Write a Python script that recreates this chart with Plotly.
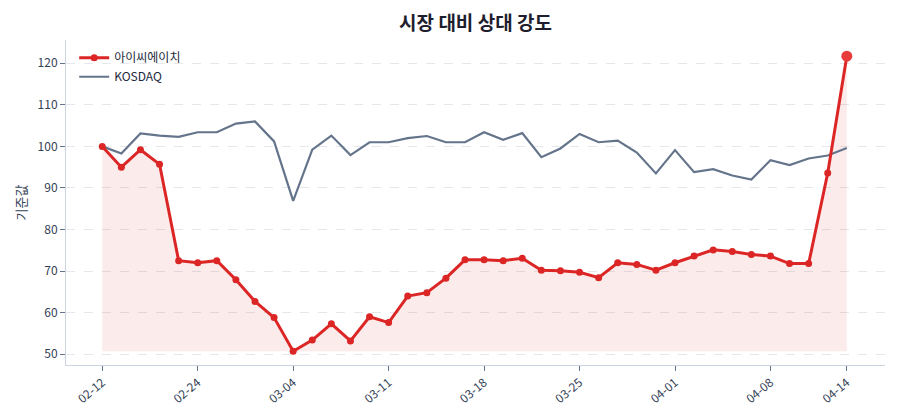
import plotly.graph_objects as go

dates = ["02-12", "02-13", "02-14", "02-17", "02-20", "02-24", "02-25", "02-26", "02-27", "02-28",
         "03-04", "03-05", "03-06", "03-07", "03-10", "03-11", "03-12", "03-13", "03-14", "03-17",
         "03-18", "03-19", "03-20", "03-21", "03-24", "03-25", "03-26", "03-27", "03-28", "03-31",
         "04-01", "04-02", "04-03", "04-04", "04-07", "04-08", "04-09", "04-10", "04-11", "04-14"]

stock = [100.0, 95.0, 99.2, 95.7, 72.5, 72.0, 72.5, 67.9, 62.7, 58.8,
         50.7, 53.4, 57.3, 53.2, 59.0, 57.6, 64.0, 64.8, 68.3, 72.7,
         72.7, 72.5, 73.1, 70.2, 70.1, 69.7, 68.4, 72.0, 71.6, 70.2,
         72.0, 73.6, 75.1, 74.7, 74.0, 73.6, 71.8, 71.8, 93.6, 121.7]

kosdaq = [100.0, 98.3, 103.1, 102.6, 102.3, 103.4, 103.4, 105.5, 106.0, 101.2,
          86.9, 99.2, 102.6, 97.9, 101.0, 101.0, 102.0, 102.5, 101.0, 101.0,
          103.4, 101.6, 103.2, 97.4, 99.5, 103.0, 101.0, 101.4, 98.5, 93.5,
          99.1, 93.8, 94.5, 93.0, 92.0, 96.7, 95.5, 97.1, 97.8, 99.6]

tick_labels = ["02-12", "02-24", "03-04", "03-11", "03-18", "03-25", "04-01", "04-08", "04-14"]

stock_name = "아이씨에이치"
index_name = "KOSDAQ"

RED = "#dc2626"
GRAY = "#64748b"
FONT = "Noto Sans CJK KR, Noto Sans, sans-serif"

x = list(range(len(dates)))
base = min(stock)
tickvals = [dates.index(t) for t in tick_labels]

fig = go.Figure()
fig.add_trace(go.Scatter(x=x, y=[base] * len(x), mode="lines", line=dict(width=0),
                         showlegend=False, hoverinfo="skip"))
fig.add_trace(go.Scatter(x=x, y=stock, mode="lines", line=dict(width=0),
                         fill="tonexty", fillcolor="rgba(220,38,38,0.09)",
                         showlegend=False, hoverinfo="skip"))
fig.add_trace(go.Scatter(x=x, y=kosdaq, mode="lines", name=index_name,
                         line=dict(color=GRAY, width=2.2)))
sizes = [7] * (len(x) - 1) + [11]
colors = [RED] * (len(x) - 1) + ["#e83c3c"]
fig.add_trace(go.Scatter(x=x, y=stock, mode="lines+markers", name=stock_name,
                         line=dict(color=RED, width=3),
                         marker=dict(size=sizes, color=colors, opacity=1, line=dict(width=0))))

fig.update_layout(
    width=900, height=420,
    margin=dict(l=66, r=15, t=40, b=55),
    paper_bgcolor="white", plot_bgcolor="white",
    font=dict(family=FONT, size=12, color="#334155"),
    title=dict(text="<b>시장 대비 상대 강도</b>", x=0.5, xref="paper", y=0.945, yref="container",
               xanchor="center", yanchor="middle",
               font=dict(size=19, color="#1e1e2e", family=FONT)),
    legend=dict(x=0.01, y=0.99, xanchor="left", yanchor="top", bgcolor="rgba(0,0,0,0)",
                traceorder="reversed", font=dict(size=12, color="#1e293b")),
    showlegend=True,
)
fig.update_xaxes(range=[-1.9, 41], tickmode="array", tickvals=tickvals, ticktext=tick_labels,
                 tickangle=-40, showgrid=False, zeroline=False,
                 showline=True, linecolor="#cbd5e1", linewidth=1,
                 ticks="outside", ticklen=5, tickcolor="#64748b",
                 tickfont=dict(size=12, color="#334155"))
fig.update_yaxes(range=[47.4, 125.6], tickvals=[50, 60, 70, 80, 90, 100, 110, 120],
                 showgrid=True, gridcolor="#e5e7eb", griddash="dash", gridwidth=1,
                 zeroline=False, showline=True, linecolor="#cbd5e1", linewidth=1,
                 ticks="outside", ticklen=5, tickcolor="#64748b",
                 title=dict(text="기준값", font=dict(size=13, color="#334155"), standoff=8),
                 tickfont=dict(size=12, color="#334155"))

fig.write_html("out.html")
